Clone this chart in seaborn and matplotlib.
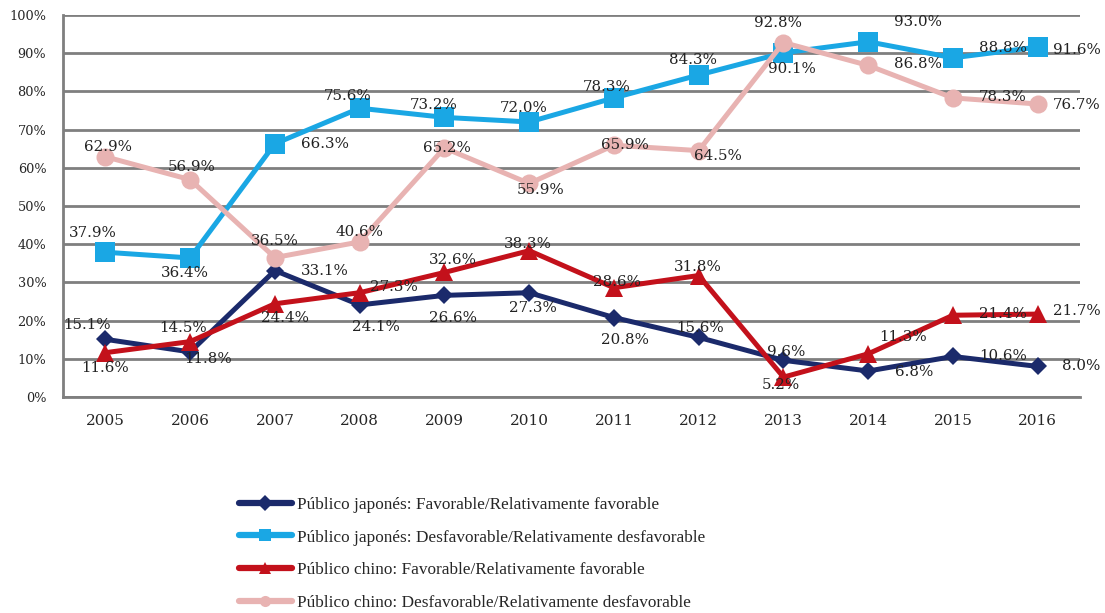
import matplotlib
matplotlib.use("Agg")
import matplotlib.pyplot as plt
import seaborn as sns
import pandas as pd
import numpy as np

# Survey years
years = ["2005", "2006", "2007", "2008", "2009", "2010",
         "2011", "2012", "2013", "2014", "2015", "2016"]

# Share of respondents (%)
jp_favorable = [15.1, 11.8, 33.1, 24.1, 26.6, 27.3, 20.8, 15.6, 9.6, 6.8, 10.6, 8.0]
jp_unfavorable = [37.9, 36.4, 66.3, 75.6, 73.2, 72.0, 78.3, 84.3, 90.1, 93.0, 88.8, 91.6]
cn_favorable = [11.6, 14.5, 24.4, 27.3, 32.6, 38.3, 28.6, 31.8, 5.2, 11.3, 21.4, 21.7]
cn_unfavorable = [62.9, 56.9, 36.5, 40.6, 65.2, 55.9, 65.9, 64.5, 92.8, 86.8, 78.3, 76.7]

series_names = [
    "Público japonés: Favorable/Relativamente favorable",
    "Público japonés: Desfavorable/Relativamente desfavorable",
    "Público chino: Favorable/Relativamente favorable",
    "Público chino: Desfavorable/Relativamente desfavorable",
]
series_values = [jp_favorable, jp_unfavorable, cn_favorable, cn_unfavorable]

# Styling per series
colors = ["#1b2a6b", "#1aa7e4", "#c3111b", "#e8b3b2"]
markers = ["D", "s", "^", "o"]
marker_sizes = [9, 14, 13, 13]

# Label offsets in points (dx, dy) for each series/year
label_offsets = [
    [(-13, 10), (13, -5), (36, 0), (12, -16), (6, -16), (3, -11), (8, -16), (1, 7), (2, 6), (33, -1), (36, 0), (31, 0)],
    [(-9, 14), (-4, -11), (36, 0), (-9, 9), (-8, 9), (-4, 10), (-5, 8), (-4, 11), (6, -12), (36, 14), (36, 7), (28, -2)],
    [(0, -11), (-5, 10), (7, -10), (25, 4), (6, 9), (-1, 5), (2, 4), (-1, 6), (-2, -6), (25, 12), (36, 1), (28, 2)],
    [(2, 7), (1, 9), (0, 12), (0, 7), (2, 0), (8, -5), (8, 0), (14, -4), (-4, 14), (36, 1), (36, 1), (28, -1)],
]

df = pd.concat(
    [pd.DataFrame({"idx": np.arange(len(years)), "year": years, "value": vals, "serie": name})
     for name, vals in zip(series_names, series_values)],
    ignore_index=True,
)

sns.set_theme(style="white")
plt.rcParams["font.family"] = ["DejaVu Serif"]

fig = plt.figure(figsize=(11.05, 6.13), dpi=100)
ax = fig.add_axes([0.057, 0.3524, 0.9205, 0.6231])

for name, color, mk, ms in zip(series_names, colors, markers, marker_sizes):
    sub = df[df["serie"] == name]
    sns.lineplot(data=sub, x="idx", y="value", ax=ax, color=color, marker=mk,
                 markersize=ms, markeredgewidth=0, linewidth=3.6, label=name,
                 zorder=3)

# Value labels
for name, offs in zip(series_names, label_offsets):
    sub = df[df["serie"] == name]
    for (i, v), (dx, dy) in zip(zip(sub["idx"], sub["value"]), offs):
        ax.annotate(f"{v:.1f}%", (i, v), xytext=(dx, dy), textcoords="offset points",
                    ha="center", va="center", fontsize=10.8, color="#222222",
                    zorder=5)

ax.set_xlim(-0.5, len(years) - 0.5)
ax.set_ylim(0, 100)
ax.set_yticks(np.arange(0, 101, 10))
ax.set_yticklabels([f"{t}%" for t in range(0, 101, 10)], fontsize=9.3)
ax.set_xticks(np.arange(len(years)))
ax.set_xticklabels(years, fontsize=11)
ax.set_xticks(np.arange(-0.5, len(years), 1), minor=True)
ax.tick_params(axis="x", which="major", length=0, pad=12)
ax.tick_params(axis="x", which="minor", length=5, width=1.5, color="#7f7f7f", direction="out")
ax.tick_params(axis="y", which="major", length=0, pad=12)
ax.set_xlabel("")
ax.set_ylabel("")

ax.yaxis.grid(True, color="#7f7f7f", linewidth=2)
ax.xaxis.grid(False)
ax.set_axisbelow(True)
for side in ["top", "right"]:
    ax.spines[side].set_visible(False)
for side in ["left", "bottom"]:
    ax.spines[side].set_color("#7f7f7f")
    ax.spines[side].set_linewidth(2)

handles, labels = ax.get_legend_handles_labels()
ax.get_legend().remove()
leg = fig.legend(handles, labels, loc="upper left", bbox_to_anchor=(0.202, 0.215),
                 frameon=False, handlelength=3.1, numpoints=1, labelspacing=0.97,
                 handletextpad=0.3, prop={"family": "Liberation Serif", "size": 12.4})
for line in leg.get_lines():
    line.set_markersize(8)
    line.set_linewidth(4.5)

fig.savefig("out.png", dpi=100, facecolor="white")
